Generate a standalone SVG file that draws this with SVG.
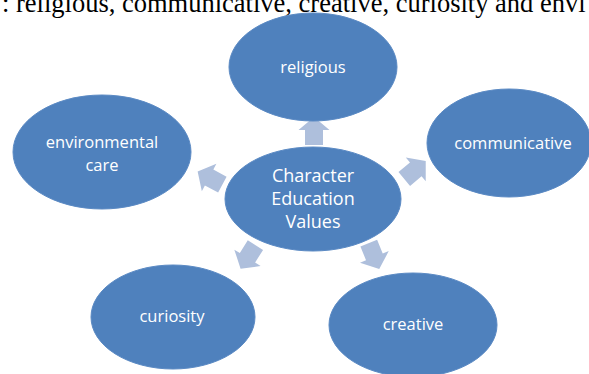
<svg xmlns="http://www.w3.org/2000/svg" width="589" height="374" viewBox="0 0 589 374">
  <style>
    .node ellipse { fill: #4f81bd; stroke: #5b8ac4; stroke-width: 1; }
    .node text { fill: #ffffff; font-family: "Open Sans", "Liberation Sans", sans-serif; text-anchor: middle; }
    .lbl { font-size: 16.5px; }
    .big { font-size: 18px; }
    .arrow { fill: #aebfdc; }
    .caption { font-family: "Liberation Serif", serif; font-size: 26.5px; fill: #000000; }
  </style>
  <defs>
    <!-- block arrow pointing along +x, centred on the origin -->
    <path id="blk" d="M-14,-9 L1,-9 L1,-15.5 L14,0 L1,15.5 L1,9 L-14,9 Z"/>
  </defs>

  <rect width="589" height="374" fill="#ffffff"/>

  <text class="caption" x="2" y="12">: religious, communicative, creative, curiosity and envi</text>

  <g id="connectors">
    <use href="#blk" class="arrow" transform="translate(314,131) rotate(-90)"/>
    <use href="#blk" class="arrow" transform="translate(210,178) rotate(-152)"/>
    <use href="#blk" class="arrow" transform="translate(415,170) rotate(-40)"/>
    <use href="#blk" class="arrow" transform="translate(248,257) rotate(122)"/>
    <use href="#blk" class="arrow" transform="translate(374,256) rotate(68)"/>
  </g>

  <g id="religious" class="node">
    <ellipse cx="313" cy="67" rx="84" ry="54"/>
    <text class="lbl" x="313" y="73">religious</text>
  </g>

  <g id="communicative" class="node">
    <ellipse cx="509" cy="143" rx="82" ry="54"/>
    <text class="lbl" x="513" y="149">communicative</text>
  </g>

  <g id="environmental-care" class="node">
    <ellipse cx="102" cy="152" rx="89" ry="57"/>
    <text class="lbl" x="102" y="148">environmental</text>
    <text class="lbl" x="102" y="171">care</text>
  </g>

  <g id="character-education-values" class="node">
    <ellipse cx="313" cy="199" rx="88" ry="52"/>
    <text class="big" x="313" y="182">Character</text>
    <text class="big" x="313" y="205">Education</text>
    <text class="big" x="313" y="228">Values</text>
  </g>

  <g id="curiosity" class="node">
    <ellipse cx="173" cy="317" rx="82" ry="52"/>
    <text class="lbl" x="172" y="322">curiosity</text>
  </g>

  <g id="creative" class="node">
    <ellipse cx="413" cy="325" rx="84" ry="52"/>
    <text class="lbl" x="413" y="330">creative</text>
  </g>
</svg>
